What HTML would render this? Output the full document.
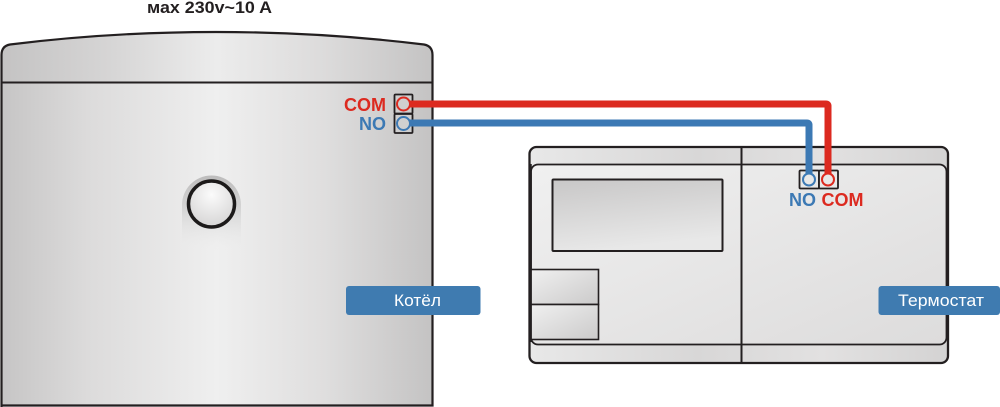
<!DOCTYPE html>
<html>
<head>
<meta charset="utf-8">
<style>
html,body{margin:0;padding:0;background:#fff;}
svg{display:block;}
text{font-family:"Liberation Sans",sans-serif;}
</style>
</head>
<body>
<svg width="1000" height="407" viewBox="0 0 1000 407" xmlns="http://www.w3.org/2000/svg">
<defs>
<linearGradient id="boiler" x1="0" x2="1" y1="0" y2="0">
<stop offset="0" stop-color="#c6c5c5"/>
<stop offset="0.2" stop-color="#dcdbdb"/>
<stop offset="0.5" stop-color="#efefef"/>
<stop offset="0.75" stop-color="#dfdede"/>
<stop offset="1" stop-color="#c4c3c3"/>
</linearGradient>
<linearGradient id="top" x1="0" x2="1" y1="0" y2="0">
<stop offset="0" stop-color="#c4c3c3"/>
<stop offset="0.25" stop-color="#d6d5d5"/>
<stop offset="0.5" stop-color="#ececec"/>
<stop offset="0.75" stop-color="#dcdbdb"/>
<stop offset="1" stop-color="#c4c3c3"/>
</linearGradient>
<linearGradient id="therm" x1="0" x2="1" y1="0" y2="1">
<stop offset="0" stop-color="#f0f0f0"/>
<stop offset="1" stop-color="#dddcdc"/>
</linearGradient>
<linearGradient id="band" x1="0" x2="1" y1="0" y2="0">
<stop offset="0" stop-color="#e8e8e8"/>
<stop offset="0.4" stop-color="#d8d7d7"/>
<stop offset="0.7" stop-color="#e2e1e1"/>
<stop offset="1" stop-color="#d4d3d3"/>
</linearGradient>
<linearGradient id="screen" x1="0" x2="0.25" y1="0" y2="1">
<stop offset="0" stop-color="#c8c7c7"/>
<stop offset="1" stop-color="#e8e8e8"/>
</linearGradient>
<linearGradient id="btn" x1="0" x2="1" y1="0" y2="1">
<stop offset="0" stop-color="#f0f0f0"/>
<stop offset="1" stop-color="#cbcaca"/>
</linearGradient>
<linearGradient id="halo" x1="0" x2="0" y1="0" y2="1">
<stop offset="0" stop-color="#bdbcbc"/>
<stop offset="0.5" stop-color="#d8d8d8"/>
<stop offset="1" stop-color="#ececec" stop-opacity="0"/>
</linearGradient>
<radialGradient id="knob" cx="0.5" cy="0.3" r="0.7">
<stop offset="0" stop-color="#fbfbfb"/>
<stop offset="1" stop-color="#d6d5d5"/>
</radialGradient>
</defs>

<text x="147" y="13" font-size="17" font-weight="bold" fill="#231f20" textLength="125" lengthAdjust="spacingAndGlyphs">мах 230v~10 A</text>

<!-- Boiler -->
<path d="M1.500 406 V55 Q1.500 46 10 44.500 Q110 32 216 32 Q322 32 424 44.500 Q432.500 46 432.500 55 V406 Z" fill="url(#boiler)"/>
<path d="M1.500 82.500 V55 Q1.500 46 10 44.500 Q110 32 216 32 Q322 32 424 44.500 Q432.500 46 432.500 55 V82.500 Z" fill="url(#top)"/>
<path d="M1.500 407 V55 Q1.500 46 10 44.500 Q110 32 216 32 Q322 32 424 44.500 Q432.500 46 432.500 55 V405.500 H1.500" fill="none" stroke="#231f20" stroke-width="2.200"/>
<line x1="1" y1="82.500" x2="433" y2="82.500" stroke="#231f20" stroke-width="2"/>

<!-- Knob -->
<path d="M182 205 A29.500 29.500 0 0 1 241 205 V250 H182 Z" fill="url(#halo)"/>
<circle cx="211.500" cy="204" r="23" fill="url(#knob)" stroke="#1c1a1a" stroke-width="3.500"/>

<!-- Thermostat -->
<rect x="529.500" y="147" width="418.500" height="216" rx="7" fill="url(#band)" stroke="#231f20" stroke-width="2.300"/>
<rect x="531" y="164.500" width="415.500" height="180" rx="7" fill="url(#therm)" stroke="#231f20" stroke-width="1.800"/>
<line x1="741.500" y1="147" x2="741.500" y2="363" stroke="#231f20" stroke-width="2"/>
<rect x="552.500" y="179.500" width="170" height="71.500" rx="1" fill="url(#screen)" stroke="#231f20" stroke-width="2"/>
<rect x="531" y="269.500" width="67.500" height="35" fill="url(#btn)" stroke="#231f20" stroke-width="1.600"/>
<rect x="531" y="304.500" width="67.500" height="35" fill="url(#btn)" stroke="#231f20" stroke-width="1.600"/>
<line x1="530.500" y1="164" x2="530.500" y2="342" stroke="#231f20" stroke-width="2.500"/>

<!-- Boiler terminals -->
<rect x="394.500" y="94.500" width="18" height="19" rx="1" fill="#cfcfcf" stroke="#231f20" stroke-width="1.800"/>
<rect x="394.500" y="114" width="18" height="19" rx="1" fill="#cfcfcf" stroke="#231f20" stroke-width="1.800"/>

<!-- Thermostat terminals -->
<rect x="799.500" y="170.500" width="19.500" height="18" rx="1" fill="#e8e8e8" stroke="#231f20" stroke-width="1.800"/>
<rect x="819" y="170.500" width="19" height="18" rx="1" fill="#e8e8e8" stroke="#231f20" stroke-width="1.800"/>

<!-- Wires -->
<path d="M409 123 H807 Q809 123 809 125 V175" fill="none" stroke="#3c79b4" stroke-width="7"/>
<path d="M409 104 H826 Q828 104 828 106 V175" fill="none" stroke="#dc2a20" stroke-width="7"/>

<circle cx="403.500" cy="104" r="6.500" fill="#d0d0d0" stroke="#dc2a20" stroke-width="2"/>
<circle cx="403.500" cy="123.500" r="6.500" fill="#d0d0d0" stroke="#3c79b4" stroke-width="2"/>
<circle cx="809" cy="179.500" r="6" fill="#e8e8e8" stroke="#3c79b4" stroke-width="2"/>
<circle cx="828" cy="179.500" r="6" fill="#e8e8e8" stroke="#dc2a20" stroke-width="2"/>

<!-- Terminal labels -->
<text x="386" y="111" font-size="18" font-weight="bold" fill="#dc2a20" text-anchor="end">COM</text>
<text x="386" y="130" font-size="18" font-weight="bold" fill="#3c79b4" text-anchor="end">NO</text>
<text x="802.500" y="206" font-size="18" font-weight="bold" fill="#3c79b4" text-anchor="middle">NO</text>
<text x="842.500" y="206" font-size="18" font-weight="bold" fill="#dc2a20" text-anchor="middle">COM</text>

<!-- Badges -->
<rect x="346" y="286" width="134.500" height="29" rx="3" fill="#3f7bb0"/>
<text x="394" y="306" font-size="16.500" fill="#fff" textLength="47" lengthAdjust="spacingAndGlyphs">Котёл</text>
<rect x="878.500" y="286" width="121.500" height="29" rx="3" fill="#3f7bb0"/>
<text x="898" y="306" font-size="16.500" fill="#fff" textLength="86" lengthAdjust="spacingAndGlyphs">Термостат</text>
</svg>
</body>
</html>
